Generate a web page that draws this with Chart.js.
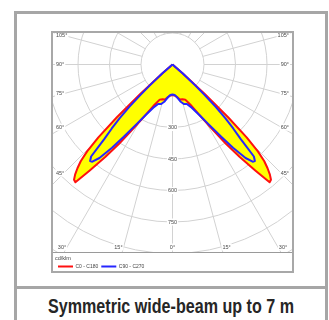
<!DOCTYPE html>
<html><head><meta charset="utf-8">
<script src="https://cdn.jsdelivr.net/npm/chart.js@4.4.1/dist/chart.umd.min.js"></script>
<style>
html,body{margin:0;padding:0;background:#fff;width:329px;height:320px;overflow:hidden;}
#card{position:absolute;left:14px;top:11px;width:314px;height:340px;box-sizing:border-box;border:3px solid #a6a6a6;}
#sep{position:absolute;left:14px;top:286px;width:314px;height:3px;background:#a6a6a6;}
#box{position:absolute;left:51px;top:31px;width:243px;height:242px;box-sizing:border-box;border:2px solid #a8a8a8;background:#fff;}
#box canvas{display:block;}
#title{position:absolute;left:0;width:342px;top:295px;text-align:center;white-space:nowrap;}
#title span{display:inline-block;font:bold 19.5px 'Liberation Sans Narrow','Liberation Sans',sans-serif;color:#262626;transform-origin:50% 50%;}
</style></head>
<body>
<div id="card"></div>
<div id="sep"></div>
<div id="box"><canvas id="c" width="239" height="238"></canvas></div>
<div id="title"><span>Symmetric wide-beam up to 7 m</span></div>
<script>
// ---- data (gamma = angle from nadir, degrees; intensities in cd/klm) ----
const gammaDeg         = [0,   4,   8,   12,  16,  20,  24,  28,  31,  34,  36,  38,  39.5, 40.5, 41.5, 42.5, 43.5, 44.5, 45.5, 46.5, 47.5, 49, 51, 90];
const intensityC0C180  = [145, 148, 157, 170, 172, 178, 210, 270, 345, 455, 545, 640, 727,  722,  700,  670,  635,  580,  495,  365,  210,  65, 0,  0];
const intensityC90C270 = [143, 146, 158, 180, 196, 200, 225, 272, 330, 415, 490, 565, 600,  604,  585,  480,  420,  360,  290,  210,  140,  65, 0,  0];
const seriesLabels     = ['C0 - C180', 'C90 - C270'];
const unitLabel        = 'cd/klm';
const ringValues       = [150, 300, 450, 600, 750, 900, 1050, 1200];
const ringTickLabels   = ['300', '450', '600', '750'];
const sideAngleLabels  = [105, 90, 75, 60, 45];
const bottomAngleLabels = [30, 15, 0];

// ---- layout constants ----
const PX_PER_UNIT = 31.5 / 150;
const CANVAS_W = 239, CANVAS_H = 238, LEGEND_H = 19, PAD_LEFT = 2;
const CX = 119.5, CY = 31.5; // polar centre in canvas pixels
const plotBottom = CANVAS_H - LEGEND_H;
const xMin = -(CX - PAD_LEFT) / PX_PER_UNIT, xMax = (CANVAS_W - CX) / PX_PER_UNIT;
const yMin = -CY / PX_PER_UNIT, yMax = (plotBottom - CY) / PX_PER_UNIT;

function toXY(g, r, side) {
  const a = g * Math.PI / 180;
  return {x: side * r * Math.sin(a), y: r * Math.cos(a)};
}
function buildCurve(vals) {
  const pts = [];
  for (let i = gammaDeg.length - 1; i >= 0; i--) pts.push(toXY(gammaDeg[i], vals[i], -1));
  for (let i = 1; i < gammaDeg.length; i++) pts.push(toXY(gammaDeg[i], vals[i], 1));
  return pts;
}

const LABEL_FONT = '5.5px "Liberation Sans", Arial, sans-serif';

function labelWithBg(ctx, text, x, y, align) {
  ctx.font = LABEL_FONT;
  const w = ctx.measureText(text).width;
  let left = x;
  if (align === 'center') left = x - w / 2;
  else if (align === 'right') left = x - w;
  ctx.fillStyle = '#ffffff';
  ctx.fillRect(left - 1, y - 3.5, w + 2, 7);
  ctx.fillStyle = '#4a4a4a';
  ctx.textAlign = align;
  ctx.textBaseline = 'middle';
  ctx.fillText(text, x, y);
}

const polarGrid = {
  id: 'polarGrid',
  beforeDraw(chart) {
    const {ctx} = chart;
    const xs = chart.scales.x, ys = chart.scales.y;
    const ox = xs.getPixelForValue(0), oy = ys.getPixelForValue(0);
    const rp = v => xs.getPixelForValue(v) - ox;
    const bottom = chart.chartArea.bottom;
    ctx.save();
    ctx.beginPath();
    ctx.rect(0, 0, chart.width, bottom);
    ctx.clip();
    ctx.strokeStyle = '#d2d2d2';
    ctx.lineWidth = 1;
    for (const r of ringValues) {
      ctx.beginPath();
      ctx.arc(ox, oy, rp(r), 0, Math.PI * 2);
      ctx.stroke();
    }
    const r0 = rp(ringValues[0]), r1 = rp(ringValues[ringValues.length - 1]);
    for (let a = 0; a < 360; a += 15) {
      const t = a * Math.PI / 180;
      const dx = Math.sin(t), dy = Math.cos(t);
      ctx.beginPath();
      ctx.moveTo(ox + dx * r0, oy + dy * r0);
      ctx.lineTo(ox + dx * r1, oy + dy * r1);
      ctx.stroke();
    }
    ringTickLabels.forEach(s => labelWithBg(ctx, s, ox, oy + rp(+s), 'center'));
    const xl = 11, xr = CANVAS_W - 11;
    sideAngleLabels.forEach(a => {
      const t = a * Math.PI / 180;
      const yl = oy + (ox - xl) * Math.cos(t) / Math.sin(t);
      const yr = oy + (xr - ox) * Math.cos(t) / Math.sin(t);
      labelWithBg(ctx, a + '°', 3, yl, 'left');
      labelWithBg(ctx, a + '°', CANVAS_W - 3, yr, 'right');
    });
    const yb = bottom - 5;
    bottomAngleLabels.forEach(a => {
      const t = a * Math.PI / 180;
      const d = (yb - oy) * Math.tan(t);
      if (a === 0) { labelWithBg(ctx, a + '°', ox, yb, 'center'); return; }
      labelWithBg(ctx, a + '°', ox - d - 1, yb, 'right');
      labelWithBg(ctx, a + '°', ox + d + 1, yb, 'left');
    });
    ctx.restore();
  },
  afterDraw(chart) {
    const {ctx} = chart;
    const y = Math.round(chart.chartArea.bottom) + 0.5;
    ctx.save();
    ctx.strokeStyle = '#9a9a9a';
    ctx.lineWidth = 1;
    ctx.beginPath();
    ctx.moveTo(0, y);
    ctx.lineTo(chart.width, y);
    ctx.stroke();
    ctx.restore();
  }
};

new Chart(document.getElementById('c'), {
  type: 'line',
  data: {
    datasets: [
      {label: seriesLabels[0], data: buildCurve(intensityC0C180), borderColor: '#ff1010', backgroundColor: '#ffff00',
       fill: 'shape', borderWidth: 2, pointRadius: 0, tension: 0, order: 1, borderJoinStyle: 'round'},
      {label: seriesLabels[1], data: buildCurve(intensityC90C270), borderColor: '#2626ff', backgroundColor: '#ffff00',
       fill: 'shape', borderWidth: 2, pointRadius: 0, tension: 0, order: 0, borderJoinStyle: 'round'}
    ]
  },
  options: {
    responsive: false,
    animation: false,
    events: [],
    layout: {padding: {left: PAD_LEFT, right: 0, top: 0, bottom: 0}},
    scales: {
      x: {type: 'linear', min: xMin, max: xMax, display: false},
      y: {type: 'linear', min: yMin, max: yMax, reverse: true, display: false}
    },
    plugins: {
      filler: {drawTime: 'beforeDatasetsDraw'},
      tooltip: {enabled: false},
      legend: {
        position: 'bottom',
        align: 'start',
        maxHeight: LEGEND_H,
        title: {display: true, text: unitLabel, position: 'start', color: '#444',
                font: {size: 5.5, family: '"Liberation Sans", Arial, sans-serif', lineHeight: '5px'}, padding: {top: 4, bottom: 0}},
        labels: {
          boxWidth: 15, boxHeight: 2, padding: 3, color: '#444',
          font: {size: 5, family: '"Liberation Sans", Arial, sans-serif'},
          generateLabels: (chart) => chart.data.datasets.map((ds, i) => ({
            text: ds.label, fillStyle: ds.borderColor, strokeStyle: ds.borderColor,
            lineWidth: 0, hidden: false, datasetIndex: i, fontColor: '#444'
          }))
        }
      }
    }
  },
  plugins: [polarGrid]
});

const span = document.querySelector('#title span');
const w = span.getBoundingClientRect().width;
span.style.transform = 'scaleX(' + (246 / w).toFixed(4) + ')';
</script>
</body></html>
